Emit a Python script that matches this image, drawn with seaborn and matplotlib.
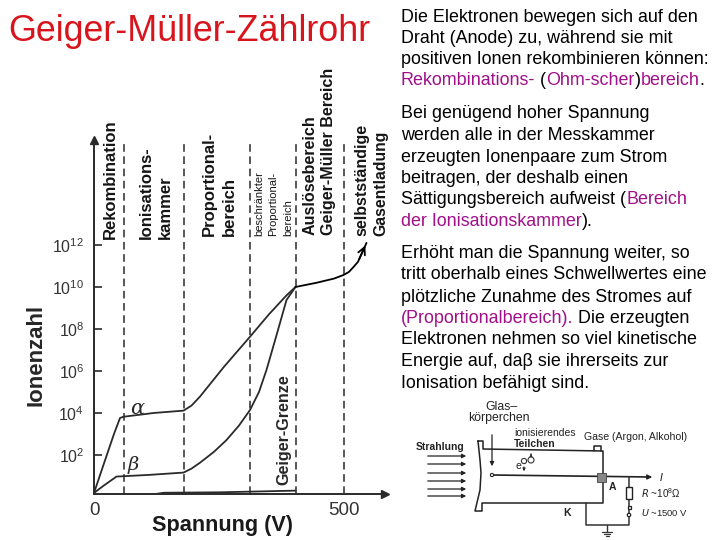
import matplotlib
matplotlib.use("Agg")
import matplotlib.pyplot as plt
from matplotlib.patches import Rectangle, Circle
import pandas as pd
import seaborn as sns

# curves: voltage (V) and log10 of the ion count
alpha_volt = [0, 20, 40, 52, 59, 120, 179, 195, 212, 260, 312, 350, 385, 403]
alpha_log = [0.19, 1.6, 3.0, 3.76, 3.82, 4.0, 4.11, 4.35, 4.78, 6.2, 7.63, 8.7, 9.6, 10.0]
beta_volt = [0, 20, 45, 110, 179, 195, 212, 240, 265, 290, 312, 330, 345, 365, 385, 403]
beta_log = [0.19, 0.55, 0.97, 1.05, 1.16, 1.35, 1.63, 2.15, 2.71, 3.4, 4.14, 5.0, 6.05, 7.7, 9.38, 10.0]
gas_volt = [403, 445, 480, 499, 510, 519, 528, 545]
gas_log = [10.0, 10.2, 10.4, 10.57, 10.72, 10.95, 11.2, 12.1]
base_volt = [0, 100, 120, 140, 250, 403]
base_log = [0.06, 0.06, 0.13, 0.2, 0.22, 0.3]
region_limits = [60, 180, 312, 403, 500]
y_powers = [2, 4, 6, 8, 10, 12]
x_ticks = [0, 500]

title = "Geiger-Müller-Zählrohr"
BLACK = "#000000"
PURPLE = "#a01088"
para_lines = [
    (22, [("Die Elektronen bewegen sich auf den", BLACK)]),
    (43, [("Draht (Anode) zu, während sie mit", BLACK)]),
    (64, [("positiven Ionen rekombinieren können:", BLACK)]),
    (85, [("Rekombinations-", PURPLE), (" (", BLACK), ("Ohm-scher", PURPLE), (")", BLACK), ("bereich", PURPLE), (".", BLACK)]),
    (118, [("Bei genügend hoher Spannung", BLACK)]),
    (140, [("werden alle in der Messkammer", BLACK)]),
    (162, [("erzeugten Ionenpaare zum Strom", BLACK)]),
    (183, [("beitragen, der deshalb einen", BLACK)]),
    (204, [("Sättigungsbereich aufweist (", BLACK), ("Bereich", PURPLE)]),
    (226, [("der Ionisationskammer", PURPLE), (").", BLACK)]),
    (258, [("Erhöht man die Spannung weiter, so", BLACK)]),
    (279, [("tritt oberhalb eines Schwellwertes eine", BLACK)]),
    (302, [("plötzliche Zunahme des Stromes auf", BLACK)]),
    (323, [("(Proportionalbereich).", PURPLE), (" Die erzeugten", BLACK)]),
    (344, [("Elektronen nehmen so viel kinetische", BLACK)]),
    (366, [("Energie auf, daβ sie ihrerseits zur", BLACK)]),
    (388, [("Ionisation befähigt sind.", BLACK)]),
]

# rotated labels: text, x centre, lower end (px), size
region_labels = [
    ("Rekombination", 110, 239, 12),
    ("Ionisations-", 146, 239, 12),
    ("kammer", 165, 239, 12),
    ("Proportional-", 209, 236, 12),
    ("bereich", 229, 236, 12),
    ("Auslösebereich", 310, 235, 11.6),
    ("Geiger-Müller Bereich", 329, 235, 11.6),
    ("selbstständige", 362, 236, 11.5),
    ("Gasentladung", 381, 236, 11.3),
]
small_labels = [("beschränkter", 259, 236), ("Proportional-", 273, 236), ("bereich", 288, 236)]

# counter tube sketch, pixel positions of the scan
tube_outline = [(478, 441), (483, 441), (483, 449), (603, 451), (603, 503), (482, 503), (482, 511), (475, 511),
                (480, 490), (481, 473), (480, 460), (478, 441)]
wire = [(492, 475), (650, 477)]
ray_y = [456, 464, 473, 481, 489, 496]
circuit = [(629, 477), (629, 487), (629, 499), (629, 507), (629, 515), (629, 525), (586, 525), (586, 503)]
ground = [(607, 525), (607, 532)]
sketch_texts = [
    ("Glas–", 485, 407, "normal", 8.8), ("körperchen", 468, 418, "normal", 8.8), ("ionisierendes", 514, 433, "normal", 7.5),
    ("Teilchen", 514, 444, "bold", 7.5), ("Gase (Argon, Alkohol)", 584, 437, "normal", 7.6), ("Strahlung", 416, 447, "bold", 7.5),
    ("e", 515, 466, "normal", 7.5), ("A", 609, 487, "bold", 7.5), ("K", 563, 513, "bold", 7.5),
    (r"$\mathit{R}$ ~10$^8$Ω", 641, 493, "normal", 7.2), (r"$\mathit{U}$ ~1500 V", 641, 512, "normal", 6.8), (r"$\mathit{I}$", 659, 477, "normal", 7.5),
]

sns.set_theme(style="white", rc={"font.family": ["Liberation Sans", "DejaVu Sans"], "mathtext.default": "regular"})
plt.rcParams["font.family"] = ["Liberation Sans", "DejaVu Sans"]

W, H = 720, 540
INK = "#2a2a2a"
fig = plt.figure(figsize=(7.2, 5.4), dpi=100)
ax = fig.add_axes([94 / W, 1 - 494 / H, (385 - 94) / W, (494 - 140) / H])

curves = pd.concat([
    pd.DataFrame({"volt": alpha_volt, "count": [10.0 ** v for v in alpha_log], "curve": "alpha"}),
    pd.DataFrame({"volt": beta_volt, "count": [10.0 ** v for v in beta_log], "curve": "beta"}),
    pd.DataFrame({"volt": gas_volt, "count": [10.0 ** v for v in gas_log], "curve": "gas"}),
    pd.DataFrame({"volt": base_volt, "count": [10.0 ** v for v in base_log], "curve": "base"}),
])
sns.lineplot(data=curves, x="volt", y="count", hue="curve", sort=False, estimator=None, ax=ax, legend=False,
             palette={"alpha": INK, "beta": INK, "gas": "#000000", "base": INK}, linewidth=1.3)
ax.set_yscale("log")
ax.set_xlim(0, 582)
ax.set_ylim(10 ** 0.14, 10.0 ** 17)
for v in region_limits:
    ax.axvline(v, color=INK, lw=1.1, dashes=(5, 3))

# arrow on the discharge curve
ax.annotate("", xy=(gas_volt[-1], 10.0 ** gas_log[-1]), xytext=(gas_volt[-2], 10.0 ** gas_log[-2]),
            arrowprops=dict(arrowstyle="->", color="black", lw=1.3, mutation_scale=13))

sns.despine(ax=ax)
for s in ["left", "bottom"]:
    ax.spines[s].set_color(INK)
    ax.spines[s].set_linewidth(1.4)
ax.plot(1, 0, ">", color=INK, ms=6, transform=ax.transAxes, clip_on=False)
ax.plot(0, 1, "^", color=INK, ms=6, transform=ax.transAxes, clip_on=False)

ax.set_xticks(x_ticks)
ax.set_xticklabels([str(v) for v in x_ticks], fontsize=13.5, color="#333333")
ax.set_yticks([10.0 ** p for p in y_powers])
ax.set_yticklabels(["10$^{%d}$" % p for p in y_powers], fontsize=11.5, color="#333333")
ax.minorticks_off()
ax.tick_params(axis="y", direction="in", length=6, width=1.2, color=INK, pad=7, left=True)
ax.tick_params(axis="x", length=0, pad=6)
ax.set_xlabel("")
ax.set_ylabel("")

# overlay in scan pixels for all the texts and the sketch
ov = fig.add_axes([0, 0, 1, 1], facecolor="none")
ov.set_xlim(0, W)
ov.set_ylim(H, 0)
ov.axis("off")

ov.text(8, 41, title, color="#d8141c", fontsize=25.8, va="baseline")
ov.text(36, 355, "Ionenzahl", rotation=90, fontsize=16, fontweight="bold", ha="center", va="center")
ov.text(222, 525, "Spannung (V)", fontsize=15.6, fontweight="bold", ha="center", va="center", color="#1a1a1a")
ov.text(284, 430, "Geiger-Grenze", rotation=90, fontsize=11.6, fontweight="bold", ha="center", va="center")
ov.text(137, 408, "α", fontsize=15, family="DejaVu Serif", style="italic", ha="center", va="center", color=INK)
ov.text(133, 465, "β", fontsize=14, family="DejaVu Serif", style="italic", ha="center", va="center", color=INK)

for txt, x, y, size in region_labels:
    ov.text(x, y, txt, rotation=90, fontsize=size, fontweight="bold", ha="center", va="bottom", color="#151515")
for txt, x, y in small_labels:
    ov.text(x, y, txt, rotation=90, fontsize=8, ha="center", va="bottom", color="#151515")

renderer = fig.canvas.get_renderer()
for y, parts in para_lines:
    x = 401
    for txt, col in parts:
        t = ov.text(x, y, txt, color=col, fontsize=12.9, va="baseline")
        x += t.get_window_extent(renderer).width

# counter tube
ov.plot(*zip(*tube_outline), color="#222222", lw=1.1)
ov.plot(*zip(*wire), color="#222222", lw=1.2)
ov.add_patch(Circle(wire[0], 1.6, fc="white", ec="#222222", lw=0.8, zorder=3))
ov.add_patch(Rectangle((596.5, 472.5), 9, 9, fc="#888888", ec="#444444", lw=0.6, zorder=3))
ov.annotate("", xy=(655, 477), xytext=(645, 477), arrowprops=dict(arrowstyle="-|>", color="#222222", lw=1, mutation_scale=7))
for y in ray_y:
    ov.annotate("", xy=(469, y), xytext=(425, y), arrowprops=dict(arrowstyle="-|>", color="#222222", lw=0.9, mutation_scale=6))
ov.annotate("", xy=(492, 469), xytext=(492, 432), arrowprops=dict(arrowstyle="-|>", color="#222222", lw=0.9, mutation_scale=6))
ov.annotate("", xy=(524, 474), xytext=(524, 464), arrowprops=dict(arrowstyle="-|>", color="#222222", lw=0.7, mutation_scale=4))
ov.annotate("", xy=(531, 451), xytext=(531, 457), arrowprops=dict(arrowstyle="-|>", color="#222222", lw=0.7, mutation_scale=4))
ov.add_patch(Circle((524, 461), 2.6, fc="white", ec="#333333", lw=0.8, zorder=3))
ov.add_patch(Circle((531, 460), 3, fc="white", ec="#333333", lw=0.8, zorder=3))
ov.plot([594, 594, 601, 601], [451, 446, 446, 451], color="#222222", lw=1.1)
ov.plot(*zip(*circuit), color="#333333", lw=1.1)
ov.add_patch(Rectangle((626, 487), 6, 12, fc="white", ec="#222222", lw=1, zorder=3))
ov.add_patch(Rectangle((627.5, 506), 3, 3, fc="white", ec="#222222", lw=0.9, zorder=3))
ov.add_patch(Circle((629, 515), 1.7, fc="white", ec="#222222", lw=0.9, zorder=3))
ov.plot(*zip(*ground), color="#333333", lw=1)
for half, y in zip([5, 3, 1.5], [532, 534, 536]):
    ov.plot([607 - half, 607 + half], [y, y], color="#333333", lw=0.9)
for txt, x, y, weight, size in sketch_texts:
    ov.text(x, y, txt, fontsize=size, fontweight=weight, va="center", color="#222222")

plt.savefig("out.png", dpi=100)
